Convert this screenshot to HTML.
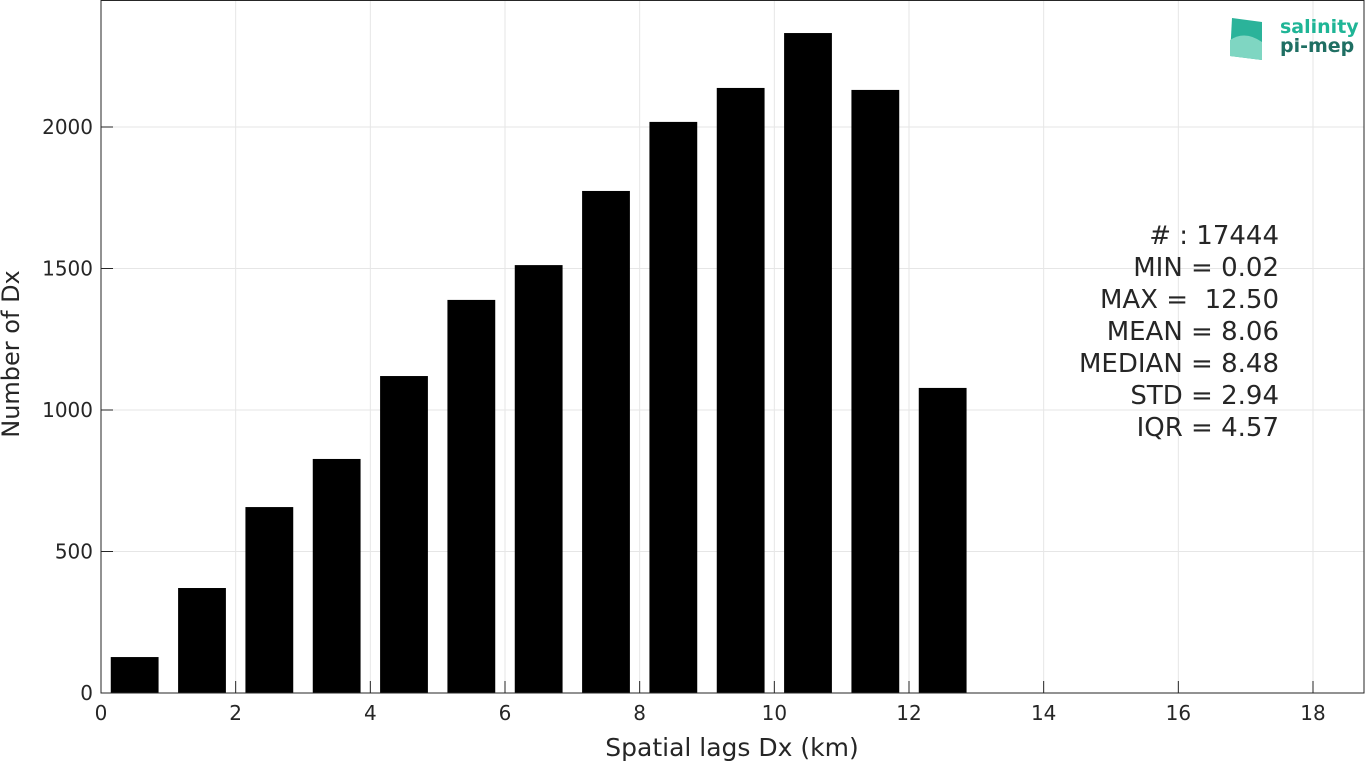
<!DOCTYPE html>
<html><head><meta charset="utf-8"><style>
body{margin:0;background:#fff;}
svg text{font-family:"DejaVu Sans","Liberation Sans",sans-serif;fill:#262626;}
</style></head><body>
<svg id="chart" width="1365" height="763" xmlns="http://www.w3.org/2000/svg">
<g id="grid"></g>
<g id="bars"></g>
<g id="axes"></g>
<g font-size="26" text-anchor="end">
<text x="1279" y="244"># : 17444</text>
<text x="1279" y="276">MIN = 0.02</text>
<text x="1279" y="308" xml:space="preserve">MAX =  12.50</text>
<text x="1279" y="340">MEAN = 8.06</text>
<text x="1279" y="372">MEDIAN = 8.48</text>
<text x="1279" y="404">STD = 2.94</text>
<text x="1279" y="436">IQR = 4.57</text>
</g>
<g>
<path d="M1232 18 L1262 22 L1262 60 L1230 56 Z" fill="#2bb39a"/>
<path d="M1230 40 Q1245 30 1262 42 L1262 60 L1230 56 Z" fill="#7fd6c2"/>
<text x="1280" y="33" font-size="19" font-weight="bold" style="fill:#1fb596">salinity</text>
<text x="1280" y="52" font-size="19" font-weight="bold" style="fill:#1f6f63">pi-mep</text>
</g>
<text x="732" y="756" font-size="25" text-anchor="middle">Spatial lags Dx (km)</text>
<text transform="translate(19,354) rotate(-90)" font-size="24" text-anchor="middle">Number of Dx</text>
</svg>
<script>
const binCenters=[0.5,1.5,2.5,3.5,4.5,5.5,6.5,7.5,8.5,9.5,10.5,11.5,12.5];
const counts=[127,371,657,827,1120,1389,1512,1774,2018,2138,2332,2131,1078];
const xTicks=[0,2,4,6,8,10,12,14,16,18];
const yTicks=[0,500,1000,1500,2000];
const X0=101,X1=1364,Y0=693,Y1=0;
const xs=v=>X0+v*(1313-101)/18;
const ys=v=>Y0-v*(693-127)/2000;
const NS="http://www.w3.org/2000/svg";
function mk(t,a,p){const e=document.createElementNS(NS,t);for(const k in a)e.setAttribute(k,a[k]);p.appendChild(e);return e;}
const grid=document.getElementById('grid'),bars=document.getElementById('bars'),axes=document.getElementById('axes');
xTicks.forEach(t=>{const l=mk('line',{x1:xs(t),x2:xs(t),y1:Y1,y2:Y0,stroke:'#e6e6e6'},grid);
});
yTicks.forEach(t=>{const l=mk('line',{x1:X0,x2:X1,y1:ys(t),y2:ys(t),stroke:'#e6e6e6'},grid);
});
binCenters.forEach((c,i)=>{const w=0.71;const r=mk('rect',{x:xs(c-w/2),y:ys(counts[i]),width:xs(w)-xs(0),height:ys(0)-ys(counts[i]),fill:'#000'},bars);
});
const b=mk('rect',{x:X0,y:Y1+0.5,width:X1-X0,height:Y0-Y1-0.5,fill:'none',stroke:'#262626','stroke-width':1},axes);

xTicks.forEach(t=>{mk('line',{x1:xs(t),x2:xs(t),y1:Y0,y2:Y0-12,stroke:'#262626'},axes);
const tx=mk('text',{x:xs(t),y:Y0+27,'font-size':20,'text-anchor':'middle'},axes);tx.textContent=t;
});
yTicks.forEach(t=>{mk('line',{x1:X0,x2:X0+12,y1:ys(t),y2:ys(t),stroke:'#262626'},axes);
const tx=mk('text',{x:X0-8,y:ys(t)+7,'font-size':20,'text-anchor':'end'},axes);tx.textContent=t;
});
</script>
</body></html>
